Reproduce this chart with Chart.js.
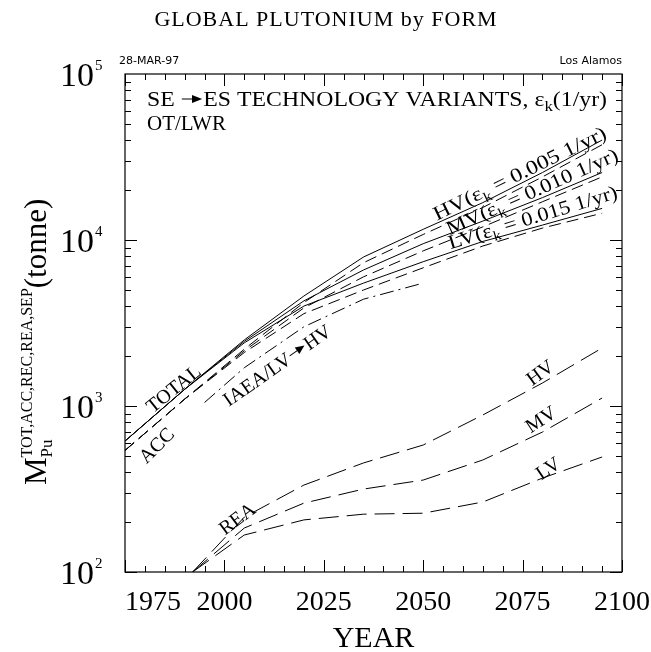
<!DOCTYPE html>
<html>
<head>
<meta charset="utf-8">
<script src="https://cdn.jsdelivr.net/npm/chart.js@4/dist/chart.umd.min.js"></script>
<style>
  html, body { margin: 0; padding: 0; background: #fff; }
  #wrap { width: 651px; height: 652px; }
</style>
</head>
<body>
<div id="wrap"><canvas id="pu" width="651" height="652"></canvas></div>
<script>
// values (tonne of Pu)
var years   = [1975, 1990, 2005, 2020, 2035, 2050, 2065, 2080, 2095];
var totalHV = [615, 1260, 2500, 4600, 7900, 11600, 16800, 25500, 40000];
var totalMV = [615, 1260, 2450, 4300, 6600, 9500, 13000, 18000, 25500];
var totalLV = [615, 1260, 2400, 4000, 5500, 7400, 9800, 12300, 15500];
var accHV   = [540, 1100, 2200, 4200, 7300, 10800, 15700, 24000, 37500];
var accMV   = [540, 1100, 2150, 3900, 6000, 8600, 12000, 17000, 24000];
var accLV   = [540, 1100, 2100, 3600, 5000, 6800, 9200, 11800, 14500];

var iaeaYears = [1995, 2005, 2020, 2035, 2050];
var iaeaLVtoHV = [1050, 1700, 3000, 4400, 5500];

var reaYears = [1992, 2005, 2020, 2035, 2050, 2065, 2080, 2095];
var reaHV = [100, 214, 334, 454, 582, 883, 1376, 2236];
var reaMV = [100, 184, 260, 316, 358, 473, 697, 1117];
var reaLV = [100, 167, 206, 223, 226, 264, 368, 493];

var xTickYears = [1975, 2000, 2025, 2050, 2075, 2100];
var yTickPowers = [2, 3, 4, 5];

var SERIF = '"Liberation Serif", "DejaVu Serif", serif';

function pts(xs, ys) {
    return xs.map(function(x, i){ return {x: x, y: ys[i]}; });
}
function line(data, dash) {
    return {
        data: data,
        borderColor: '#000',
        borderWidth: 1,
        borderDash: dash || [],
        pointRadius: 0,
        tension: 0,
        fill: false
    };
}

// rich text: runs of {t, size, dy} or {arrow: len} or {sub:{..}, sup:{..}}
function runW(ctx, r) {
    if (r.arrow) return r.arrow;
    if (r.sub) {
        ctx.font = r.sub.size + 'px ' + SERIF;
        var a = ctx.measureText(r.sub.t).width;
        ctx.font = r.sup.size + 'px ' + SERIF;
        var b = ctx.measureText(r.sup.t).width;
        return Math.max(a, b);
    }
    ctx.font = r.size + 'px ' + SERIF;
    return ctx.measureText(r.t).width;
}
function runsW(ctx, runs) {
    var w = 0;
    runs.forEach(function(r){ w += runW(ctx, r); });
    return w;
}
function drawRuns(ctx, runs, x, y) {
    runs.forEach(function(r){
        var w = runW(ctx, r);
        if (r.arrow) {
            var ay = y + (r.dy || 0);
            ctx.beginPath();
            ctx.moveTo(x + 1, ay);
            ctx.lineTo(x + w - 8, ay);
            ctx.stroke();
            ctx.beginPath();
            ctx.moveTo(x + w - 1, ay);
            ctx.lineTo(x + w - 10, ay - 4);
            ctx.lineTo(x + w - 10, ay + 4);
            ctx.closePath();
            ctx.fill();
        } else if (r.sub) {
            ctx.font = r.sub.size + 'px ' + SERIF;
            ctx.fillText(r.sub.t, x, y + r.sub.dy);
            ctx.font = r.sup.size + 'px ' + SERIF;
            ctx.fillText(r.sup.t, x, y + r.sup.dy);
        } else {
            ctx.font = r.size + 'px ' + SERIF;
            ctx.fillText(r.t, x, y + (r.dy || 0));
        }
        x += w;
    });
}
function epsRuns(name, val, size) {
    return [
        {t: name + '(', size: size},
        {t: 'ε', size: size},
        {t: 'k', size: size * 0.7, dy: size * 0.25},
        {t: ' = ' + val + ' 1/yr)', size: size}
    ];
}

// text laid along the curves, anchored in data space
var notes = [
    {runs: [{t: 'TOTAL', size: 20}], x: 1987.1, y: 1280, angle: 39},
    {runs: [{t: 'ACC', size: 20}], x: 1982.8, y: 582, angle: 45},
    {runs: [{t: 'IAEA/LV', size: 20}, {arrow: 20, dy: -7}, {t: 'HV', size: 20}], x: 2013.2, y: 1770, angle: 35},
    {runs: [{t: 'REA', size: 20}], x: 2003.1, y: 211, angle: 37},
    {runs: [{t: 'HV', size: 20}], x: 2079.3, y: 1600, angle: 36},
    {runs: [{t: 'MV', size: 20}], x: 2079.5, y: 836, angle: 33},
    {runs: [{t: 'LV', size: 20}], x: 2081.3, y: 424, angle: 34},
    {runs: epsRuns('HV', '0.005', 20), x: 2074.2, y: 25400, angle: 26, len: 190},
    {runs: epsRuns('MV', '0.010', 20), x: 2077.3, y: 19700, angle: 24, len: 186},
    {runs: epsRuns('LV', '0.015', 20), x: 2077.5, y: 13800, angle: 17, len: 176}
];

var frame = {
    id: 'frame',
    afterDraw: function(chart) {
        var ctx = chart.ctx, a = chart.chartArea;
        var xs = chart.scales.x, ys = chart.scales.y;
        ctx.save();
        ctx.strokeStyle = '#000';
        ctx.fillStyle = '#000';
        ctx.lineWidth = 1.2;
        ctx.strokeRect(a.left, a.top, a.right - a.left, a.bottom - a.top);

        // inward ticks
        ctx.lineWidth = 1;
        ctx.beginPath();
        for (var yr = xs.min; yr <= xs.max; yr += 5) {
            var px = Math.round(xs.getPixelForValue(yr)) + 0.5;
            var len = (yr - xs.min) % 25 === 0 ? 12 : 6;
            ctx.moveTo(px, a.bottom); ctx.lineTo(px, a.bottom - len);
            ctx.moveTo(px, a.top); ctx.lineTo(px, a.top + len);
        }
        for (var p = 2; p <= 4; p++) {
            for (var k = 1; k <= 9; k++) {
                var py = Math.round(ys.getPixelForValue(k * Math.pow(10, p))) + 0.5;
                var l2 = k === 1 ? 12 : 6;
                ctx.moveTo(a.left, py); ctx.lineTo(a.left + l2, py);
                ctx.moveTo(a.right, py); ctx.lineTo(a.right - l2, py);
            }
        }
        ctx.stroke();

        // tick labels
        ctx.textBaseline = 'alphabetic';
        ctx.textAlign = 'left';
        xTickYears.forEach(function(v, i){
            ctx.font = '28px ' + SERIF;
            var w = ctx.measureText(String(v)).width;
            var px = xs.getPixelForValue(v);
            var lx = i === 0 ? a.left : px - w / 2;
            ctx.fillText(String(v), lx, a.bottom + 38);
        });
        yTickPowers.forEach(function(p){
            var py = ys.getPixelForValue(Math.pow(10, p));
            ctx.font = '34px ' + SERIF;
            var w = ctx.measureText('10').width;
            ctx.fillText('10', 94 - w, py + 12);
            ctx.font = '15px ' + SERIF;
            ctx.fillText(String(p), 95, py - 4);
        });

        // axis titles
        ctx.font = '30px ' + SERIF;
        var tw = ctx.measureText('YEAR').width;
        ctx.fillText('YEAR', (a.left + a.right) / 2 - tw / 2, 647);

        ctx.save();
        ctx.translate(46, 485);
        ctx.rotate(-Math.PI / 2);
        drawRuns(ctx, [
            {t: 'M', size: 31},
            {sub: {t: 'Pu', size: 17, dy: 6}, sup: {t: 'TOT,ACC,REC,REA,SEP', size: 16, dy: -14}},
            {t: '(tonne)', size: 31}
        ], 0, 0);
        ctx.restore();

        // title and corner stamps
        ctx.font = '22px ' + SERIF;
        ctx.letterSpacing = '1px';
        var title = 'GLOBAL PLUTONIUM by FORM';
        ctx.fillText(title, 326 - ctx.measureText(title).width / 2, 26);
        ctx.letterSpacing = '0px';
        ctx.font = '11px "DejaVu Sans", sans-serif';
        ctx.fillText('28-MAR-97', 119, 64);
        ctx.textAlign = 'right';
        ctx.fillText('Los Alamos', a.right, 64);
        ctx.textAlign = 'left';

        // header inside the frame
        var head = [
            {t: 'SE ', size: 21}, {arrow: 20, dy: -7}, {t: 'ES TECHNOLOGY VARIANTS, ', size: 21},
            {t: 'ε', size: 21}, {t: 'k', size: 15, dy: 5}, {t: '(1/yr)', size: 21}
        ];
        var hw = runsW(ctx, head);
        ctx.save();
        ctx.translate(147, 106);
        ctx.scale(460 / hw, 1);
        drawRuns(ctx, head, 0, 0);
        ctx.restore();
        drawRuns(ctx, [{t: 'OT/LWR', size: 21}], 147, 130);

        // curve labels
        notes.forEach(function(n){
            var px = xs.getPixelForValue(n.x), py = ys.getPixelForValue(n.y);
            var w = runsW(ctx, n.runs);
            var sx = n.len ? n.len / w : 1;
            ctx.save();
            ctx.translate(px, py);
            ctx.rotate(-n.angle * Math.PI / 180);
            ctx.scale(sx, 1);
            drawRuns(ctx, n.runs, -w / 2, 7);
            ctx.restore();
        });
        ctx.restore();
    }
};

var accDash = [12, 6];
var reaDash = [20, 8];
var iaeaDash = [14, 5, 2, 5];

new Chart(document.getElementById('pu'), {
    type: 'line',
    data: {
        datasets: [
            line(pts(years, totalHV)),
            line(pts(years, totalMV)),
            line(pts(years, totalLV)),
            line(pts(years, accHV), accDash),
            line(pts(years, accMV), accDash),
            line(pts(years, accLV), accDash),
            line(pts(iaeaYears, iaeaLVtoHV), iaeaDash),
            line(pts(reaYears, reaHV), reaDash),
            line(pts(reaYears, reaMV), reaDash),
            line(pts(reaYears, reaLV), reaDash)
        ]
    },
    options: {
        responsive: false,
        animation: false,
        devicePixelRatio: 1,
        layout: { padding: { left: 125, right: 29, top: 74, bottom: 80 } },
        scales: {
            x: { type: 'linear', min: 1975, max: 2100, display: false },
            y: { type: 'logarithmic', min: 100, max: 100000, display: false }
        },
        plugins: { legend: { display: false }, tooltip: { enabled: false } }
    },
    plugins: [frame]
});
</script>
</body>
</html>
